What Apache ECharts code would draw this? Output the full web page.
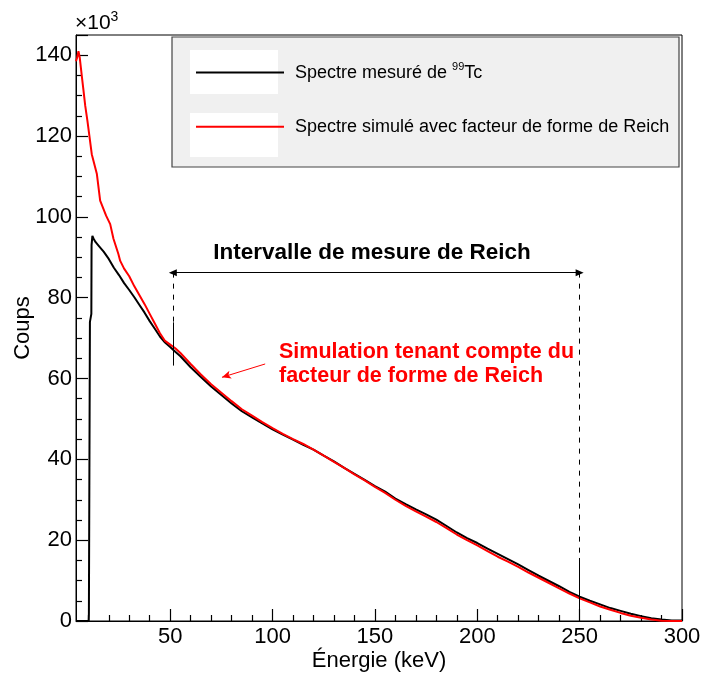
<!DOCTYPE html>
<html>
<head>
<meta charset="utf-8">
<script src="https://cdn.jsdelivr.net/npm/echarts@6/dist/echarts.min.js"></script>
<style>
html,body{margin:0;padding:0;background:#fff;}
#chart{width:703px;height:682px;}
</style>
</head>
<body>
<div id="chart"></div>
<script>
// Measured 99Tc spectrum (energy in keV, counts in units of 10^3)
const energyMeasured = [4,10.2,10.3,10.7,10.8,11.5,11.6,12.0,12.6,13.5,15,17.5,20,22.5,25,27.5,30,32.5,35,37.5,40,42.5,45,47.5,50,52.5,55,60,65,70,75,80,85,90,95,100,105,110,115,120,125,130,135,140,145,150,155,160,165,170,175,180,185,190,195,200,205,210,215,220,225,230,235,240,245,250,255,260,265,270,275,280,285,290,295,300];
const countsMeasured = [0,0,1.8,1.8,74,76,93,95.3,94.6,93.8,92.9,91.4,89.6,87.4,85.6,83.6,81.9,80.1,78.2,76.3,74.2,72.3,70.4,68.9,67.8,66.6,65.5,62.8,60.4,58.0,55.9,53.8,51.9,50.4,48.9,47.4,46.1,44.9,43.6,42.4,40.9,39.5,37.9,36.4,34.9,33.4,32.0,30.3,28.9,27.6,26.4,25.1,23.5,21.9,20.5,19.3,17.9,16.6,15.3,14.0,12.6,11.2,9.9,8.6,7.2,6.0,5.0,4.1,3.2,2.5,1.8,1.2,0.7,0.35,0.15,0.1];

// Simulated spectrum with Reich shape factor
const energySimulated = [4,4.6,5.2,5.8,6.8,7.5,8.5,9.6,11.7,14.2,15.8,18.7,20.7,22.3,24.7,25.6,27.5,30,32.5,35,37.5,40,42.5,45,47.5,50,52.5,55,60,65,70,75,80,85,90,95,100,105,110,115,120,125,130,135,140,145,150,155,160,165,170,175,180,185,190,195,200,205,210,215,220,225,230,235,240,245,250,255,260,265,270,275,280,285,290,295,300];
const countsSimulated = [138.5,139.5,141.0,139.5,135.0,132.0,127.5,123.7,115.5,110.6,104.0,100.3,98.2,94.6,90.8,89.1,87.2,85.3,82.8,80.6,78.4,76.0,73.6,71.2,69.3,68.4,67.5,66.3,63.6,61.0,58.6,56.5,54.4,52.4,50.8,49.2,47.7,46.3,45.0,43.8,42.4,40.9,39.4,37.9,36.3,34.8,33.2,31.7,30.0,28.5,27.1,25.8,24.5,23.0,21.4,20.0,18.7,17.3,15.9,14.7,13.4,12.0,10.7,9.4,8.1,6.8,5.6,4.6,3.6,2.8,2.0,1.3,0.8,0.35,0.05,0,0];

// Axis ticks
const xMajorTicks = [50,100,150,200,250,300];
const xMinorTicks = [10,20,30,40,60,70,80,90,110,120,130,140,160,170,180,190,210,220,230,240,260,270,280,290];

// Annotation anchors (data coordinates)
const intervalBounds = [51.3, 250];
const arrowLevel = 86.2;
const leftTick = [73.9, 63.2];
const rightTick = [15.6, 2.5];
const simArrow = [[96.4, 63.6], [75.3, 60.3]];

const seriesNames = ['Spectre mesuré de 99Tc', 'Spectre simulé avec facteur de forme de Reich'];

const FONT = '"Liberation Sans", Arial, Helvetica, sans-serif';

function pairs(xs, ys) { return xs.map((x, i) => [x, ys[i]]); }

const chart = echarts.init(document.getElementById('chart'));

const option = {
  animation: false,
  backgroundColor: '#fff',
  textStyle: {fontFamily: FONT},
  grid: {
    left: 76, right: 21, top: 35, bottom: 61,
    show: true, borderColor: '#000', borderWidth: 1,
    outerBoundsMode: 'none'
  },
  legend: {
    orient: 'vertical',
    left: 190, top: 50,
    itemWidth: 88, itemHeight: 44, itemGap: 19,
    selectedMode: false,
    z: 10,
    itemStyle: {opacity: 0},
    data: seriesNames,
    formatter: function (name) {
      if (name === seriesNames[0]) return '{n|Spectre mesuré de }{s|99}{n|Tc}';
      return '{n|' + name + '}';
    },
    textStyle: {
      color: '#000', fontFamily: FONT, fontSize: 18, padding: [0, 0, 0, 6],
      rich: {
        n: {fontSize: 18, color: '#000', fontFamily: FONT, lineHeight: 22},
        s: {fontSize: 11, color: '#000', fontFamily: FONT, verticalAlign: 'top', lineHeight: 22}
      }
    }
  },
  xAxis: [
    {
      type: 'value', min: 4, max: 300, position: 'bottom',
      axisLine: {show: true, onZero: false, lineStyle: {color: '#000', width: 1}},
      axisTick: {show: true, inside: true, length: 12, customValues: xMajorTicks, lineStyle: {color: '#000', width: 1.2}},
      axisLabel: {customValues: xMajorTicks, color: '#000', fontSize: 22, fontFamily: FONT, margin: 5},
      splitLine: {show: false},
      name: 'Énergie (keV)', nameLocation: 'middle', nameGap: 29, nameMoveOverlap: false,
      nameTextStyle: {color: '#000', fontSize: 22, fontFamily: FONT}
    },
    {
      type: 'value', min: 4, max: 300, position: 'bottom',
      axisLine: {show: false, onZero: false},
      axisTick: {show: true, inside: true, length: 6, customValues: xMinorTicks, lineStyle: {color: '#000', width: 1.2}},
      axisLabel: {show: false, customValues: xMinorTicks},
      splitLine: {show: false}
    }
  ],
  yAxis: [
    {
      type: 'value', min: 0, max: 145, interval: 20,
      axisLine: {show: true, onZero: false, lineStyle: {color: '#000', width: 1}},
      axisTick: {show: true, inside: true, length: 12, lineStyle: {color: '#000', width: 1.2}},
      minorTick: {show: true, splitNumber: 4, length: 6, lineStyle: {color: '#000', width: 1.2}},
      axisLabel: {showMaxLabel: false, color: '#000', fontSize: 22, fontFamily: FONT, margin: 4},
      splitLine: {show: false},
      minorSplitLine: {show: false},
      name: 'Coups', nameLocation: 'middle', nameGap: 42, nameMoveOverlap: false,
      nameTextStyle: {color: '#000', fontSize: 22, fontFamily: FONT}
    }
  ],
  series: [
    {
      name: seriesNames[0], type: 'line', xAxisIndex: 0, yAxisIndex: 0,
      data: pairs(energyMeasured, countsMeasured),
      showSymbol: false, symbol: 'none', color: '#000',
      lineStyle: {color: '#000', width: 2},
      markLine: {
        silent: true, animation: false, symbol: ['none', 'none'],
        label: {show: false}, emphasis: {disabled: true},
        data: [
          [
            {coord: [intervalBounds[0], arrowLevel], symbol: 'triangle', symbolSize: [7, 8], lineStyle: {color: '#000', width: 1.2, type: 'solid'}},
            {coord: [intervalBounds[1], arrowLevel], symbol: 'triangle', symbolSize: [7, 8]}
          ],
          [
            {coord: [intervalBounds[0], arrowLevel], lineStyle: {color: '#000', width: 1, type: [5, 6]}},
            {coord: [intervalBounds[0], leftTick[0]]}
          ],
          [
            {coord: [intervalBounds[0], leftTick[0]], lineStyle: {color: '#000', width: 1, type: 'solid'}},
            {coord: [intervalBounds[0], leftTick[1]]}
          ],
          [
            {coord: [intervalBounds[1], arrowLevel], lineStyle: {color: '#000', width: 1, type: [5, 6]}},
            {coord: [intervalBounds[1], rightTick[0]]}
          ],
          [
            {coord: [intervalBounds[1], rightTick[0]], lineStyle: {color: '#000', width: 1, type: 'solid'}},
            {coord: [intervalBounds[1], rightTick[1]]}
          ]
        ]
      }
    },
    {
      name: seriesNames[1], type: 'line', xAxisIndex: 0, yAxisIndex: 0,
      data: pairs(energySimulated, countsSimulated),
      showSymbol: false, symbol: 'none', color: '#ff0000',
      lineStyle: {color: '#ff0000', width: 2},
      markLine: {
        silent: true, animation: false, symbol: ['none', 'arrow'], symbolSize: [6, 9],
        label: {show: false}, emphasis: {disabled: true},
        lineStyle: {color: '#ff0000', width: 1, type: 'solid'},
        data: [
          [
            {coord: simArrow[0], symbol: 'none'},
            {coord: simArrow[1], symbol: 'arrow', symbolSize: [6, 9]}
          ]
        ]
      }
    }
  ],
  graphic: [
    {
      type: 'rect', z: 5, silent: true,
      shape: {x: 172, y: 37, width: 507, height: 130},
      style: {fill: '#f0f0f0', stroke: '#444', lineWidth: 1.2}
    },
    {
      type: 'rect', z: 6, silent: true,
      shape: {x: 190, y: 50, width: 88, height: 44},
      style: {fill: '#fff'}
    },
    {
      type: 'rect', z: 6, silent: true,
      shape: {x: 190, y: 113, width: 88, height: 44},
      style: {fill: '#fff'}
    },
    {
      type: 'text', z: 7, silent: true, x: 372, y: 253,
      style: {text: 'Intervalle de mesure de Reich', fill: '#000', font: 'bold 22.5px ' + FONT, align: 'center', verticalAlign: 'middle'}
    },
    {
      type: 'text', z: 7, silent: true, x: 279, y: 352,
      style: {text: 'Simulation tenant compte du', fill: '#ff0000', font: 'bold 21.5px ' + FONT, align: 'left', verticalAlign: 'middle'}
    },
    {
      type: 'text', z: 7, silent: true, x: 279, y: 376,
      style: {text: 'facteur de forme de Reich', fill: '#ff0000', font: 'bold 21.5px ' + FONT, align: 'left', verticalAlign: 'middle'}
    },
    {
      type: 'text', z: 7, silent: true, x: 75, y: 23,
      style: {
        text: '{m|×10}{s|3}', align: 'left', verticalAlign: 'middle',
        rich: {
          m: {fontSize: 21, fontFamily: FONT, fill: '#000', color: '#000', lineHeight: 26},
          s: {fontSize: 14, fontFamily: FONT, fill: '#000', color: '#000', verticalAlign: 'top', lineHeight: 26}
        }
      }
    }
  ]
};

chart.setOption(option);
</script>
</body>
</html>
